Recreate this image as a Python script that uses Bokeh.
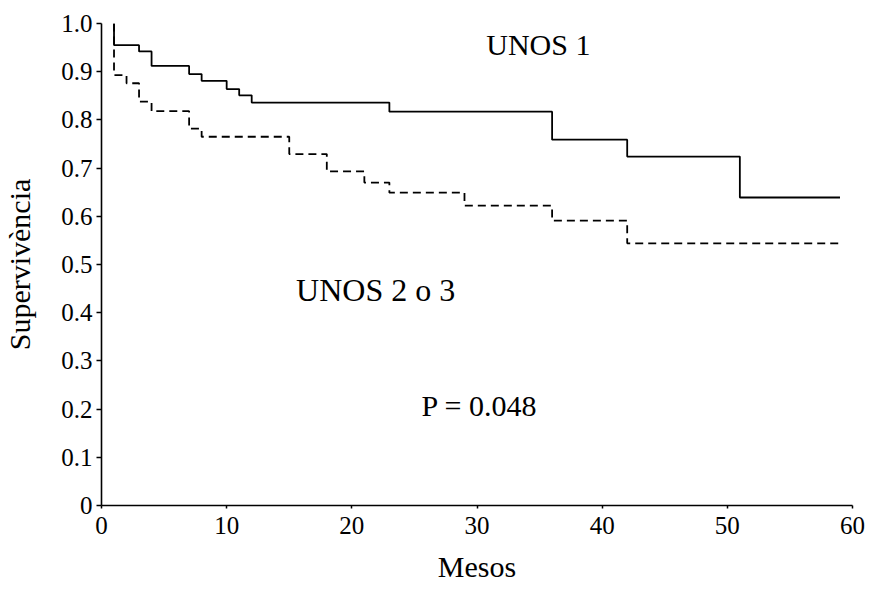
from bokeh.plotting import figure
from bokeh.models import Range1d, Label, FixedTicker, CustomJSTickFormatter
from bokeh.embed import file_html
from bokeh.resources import INLINE

# UNOS 1 (solid) Kaplan-Meier steps
unos1_t = [1, 1, 3, 4, 7, 8, 10, 11, 12, 23, 36, 42, 51, 59]
unos1_s = [1.0, 0.955, 0.942, 0.912, 0.895, 0.881, 0.864, 0.851, 0.836, 0.817, 0.759, 0.724, 0.639, 0.639]

# UNOS 2 o 3 (dashed)
unos23_t = [1, 1, 2, 3, 4, 7, 8, 15, 18, 21, 23, 29, 36, 42, 59]
unos23_s = [1.0, 0.893, 0.876, 0.838, 0.818, 0.782, 0.765, 0.729, 0.693, 0.670, 0.649, 0.622, 0.591, 0.544, 0.544]

x_ticks = [0, 10, 20, 30, 40, 50, 60]
y_ticks = [0, 0.1, 0.2, 0.3, 0.4, 0.5, 0.6, 0.7, 0.8, 0.9, 1.0]

FONT = "Liberation Serif"

p = figure(frame_width=751, frame_height=482,
           x_range=Range1d(0, 60), y_range=Range1d(0, 1),
           output_backend="svg", toolbar_location=None,
           min_border_left=100, min_border_right=14,
           min_border_top=23, min_border_bottom=85)

p.xgrid.visible = False
p.ygrid.visible = False
p.outline_line_color = None
p.background_fill_color = "white"
p.border_fill_color = "white"

p.xaxis.ticker = FixedTicker(ticks=x_ticks)
p.yaxis.ticker = FixedTicker(ticks=y_ticks)
p.yaxis.formatter = CustomJSTickFormatter(code="return tick == 0 ? '0' : tick.toFixed(1);")

for ax in (p.xaxis, p.yaxis):
    ax.minor_tick_line_color = None
    ax.major_tick_in = 0
    ax.axis_line_color = "black"
    ax.axis_line_width = 1.6
    ax.major_tick_line_color = "black"
    ax.major_tick_line_width = 1.5
    ax.major_label_text_font = FONT
    ax.major_label_text_font_size = "25px"
    ax.major_label_text_color = "black"
    ax.axis_label_text_font = FONT
    ax.axis_label_text_font_size = "30px"
    ax.axis_label_text_font_style = "normal"
    ax.axis_label_text_color = "black"

p.xaxis.major_tick_out = 3
p.yaxis.major_tick_out = 5
p.xaxis.major_label_standoff = 8
p.yaxis.major_label_standoff = 4
p.xaxis.axis_label = "Mesos"
p.yaxis.axis_label = "Supervivència"
p.xaxis.axis_label_standoff = 13
p.yaxis.axis_label_standoff = 22

p.step(x=unos1_t, y=unos1_s, mode="after", line_color="black", line_width=1.8)
p.step(x=unos23_t, y=unos23_s, mode="after", line_color="black", line_width=1.8,
       line_dash="8 5")

for (tx, ty, txt, fs) in [(34.9, 0.956, "UNOS 1", "30px"),
                          (21.9, 0.448, "UNOS 2 o 3", "32px"),
                          (30.2, 0.207, "P = 0.048", "30px")]:
    p.add_layout(Label(x=tx, y=ty, text=txt, text_align="center", text_baseline="middle",
                       text_font=FONT, text_font_size=fs, text_color="black"))

open("out.html", "w").write(file_html(p, INLINE))
